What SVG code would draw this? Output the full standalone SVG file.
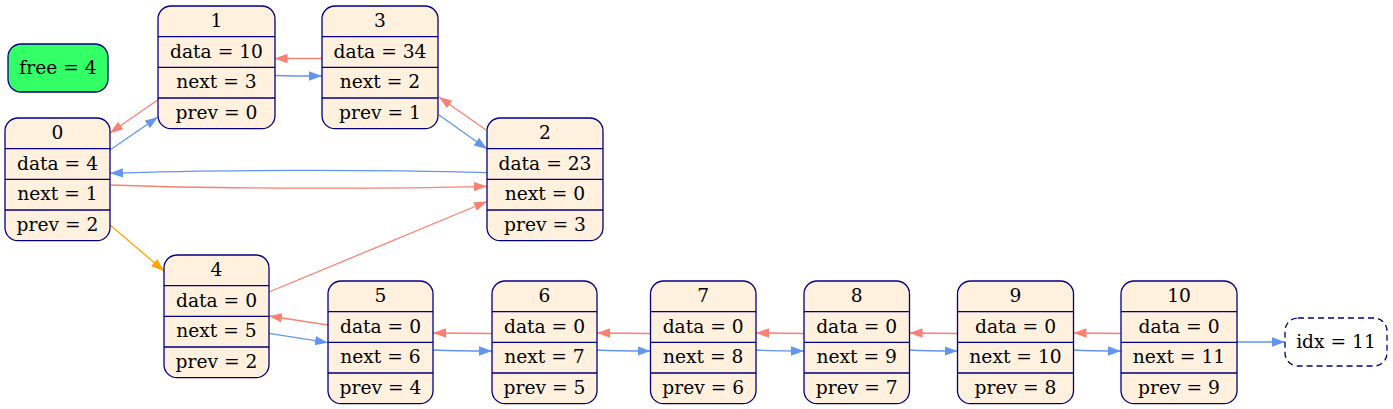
<svg xmlns="http://www.w3.org/2000/svg" width="1393" height="409" viewBox="0 0 1393 409">
<style>
text{font-family:"DejaVu Serif","Liberation Serif",serif;font-size:18.67px;fill:#000;text-anchor:middle}
.rec{fill:#FFF1DE;stroke:#000080;stroke-width:1.3}
.sep{stroke:#000080;stroke-width:1.3}
.free{fill:#33FF66;stroke:#000080;stroke-width:1.3}
.idx{fill:none;stroke:#000080;stroke-width:1.3;stroke-dasharray:6,4}
.b{fill:none;stroke:#6495ED;stroke-width:1.3;marker-end:url(#ab)}
.r{fill:none;stroke:#FA8072;stroke-width:1.3;marker-end:url(#ar)}
.o{fill:none;stroke:#FFA500;stroke-width:1.3;marker-end:url(#ao)}
</style>
<defs>
<marker id="ab" markerUnits="userSpaceOnUse" markerWidth="14" markerHeight="10" refX="13" refY="5" orient="auto"><polygon points="0,0.3 13,5 0,9.7" fill="#6495ED"/></marker>
<marker id="ar" markerUnits="userSpaceOnUse" markerWidth="14" markerHeight="10" refX="13" refY="5" orient="auto"><polygon points="0,0.3 13,5 0,9.7" fill="#FA8072"/></marker>
<marker id="ao" markerUnits="userSpaceOnUse" markerWidth="14" markerHeight="10" refX="13" refY="5" orient="auto"><polygon points="0,0.3 13,5 0,9.7" fill="#FFA500"/></marker>
</defs>
<rect width="1393" height="409" fill="#fff"/>

<g id="edges">
<path class="b" d="M110,150 L158,117"/>
<path class="r" d="M159,99 L110,133"/>
<path class="r" d="M322,58.5 L274.5,58.5"/>
<path class="b" d="M275,75.5 C290,76 305,76 322,76"/>
<path class="r" d="M486,130 L439,97"/>
<path class="b" d="M439,115 L487,149"/>
<path class="b" d="M487,172.7 C380,169.6 220,169.6 110,173.3"/>
<path class="r" d="M111,185 C220,189 380,189 487,186.3"/>
<path class="o" d="M110,225 L164,271"/>
<path class="r" d="M269,292 L487,201.5"/>
<path class="r" d="M328,325 L269,316"/>
<path class="b" d="M269,333.3 L328,342.7"/>
<path class="r" d="M492,333.5 C470,333 455,333 433,333"/>
<path class="b" d="M433,350 C455,351 470,351 492,351"/>
<path class="r" d="M650.5,333.5 C630,333 615,333 597,333"/>
<path class="b" d="M597,350 C615,351 630,351 650.5,351"/>
<path class="r" d="M804,333.5 C785,333 770,333 756,333"/>
<path class="b" d="M756,350 C770,351 785,351 804,351"/>
<path class="r" d="M957.5,333.5 C940,333 925,333 909.5,333"/>
<path class="b" d="M909.5,350 C925,351 940,351 957.5,351"/>
<path class="r" d="M1121,333.5 C1100,333 1085,333 1073.5,333"/>
<path class="b" d="M1073.5,350 C1090,351 1105,351 1121,351"/>
<path class="b" d="M1237,342 L1285,342"/>
</g>

<g id="free">
<rect class="free" x="8" y="44" width="100" height="48" rx="13"/>
<text x="58" y="74">free = 4</text>
</g>

<g id="node1">
<rect class="rec" x="158" y="6" width="117" height="122.7" rx="13"/>
<path class="sep" d="M158,36.7 H275 M158,67.3 H275 M158,98 H275"/>
<text x="216.5" y="26.8">1</text>
<text x="216.5" y="57.5">data = 10</text>
<text x="216.5" y="88.2">next = 3</text>
<text x="216.5" y="118.8">prev = 0</text>
</g>

<g id="node3">
<rect class="rec" x="322" y="6" width="116" height="122.7" rx="13"/>
<path class="sep" d="M322,36.7 H438 M322,67.3 H438 M322,98 H438"/>
<text x="380" y="26.8">3</text>
<text x="380" y="57.5">data = 34</text>
<text x="380" y="88.2">next = 2</text>
<text x="380" y="118.8">prev = 1</text>
</g>

<g id="node0">
<rect class="rec" x="5" y="118" width="105" height="122.7" rx="13"/>
<path class="sep" d="M5,148.7 H110 M5,179.3 H110 M5,210 H110"/>
<text x="57.5" y="138.8">0</text>
<text x="57.5" y="169.5">data = 4</text>
<text x="57.5" y="200.2">next = 1</text>
<text x="57.5" y="230.8">prev = 2</text>
</g>

<g id="node2">
<rect class="rec" x="487" y="118" width="116" height="122.7" rx="13"/>
<path class="sep" d="M487,148.7 H603 M487,179.3 H603 M487,210 H603"/>
<text x="545" y="138.8">2</text>
<text x="545" y="169.5">data = 23</text>
<text x="545" y="200.2">next = 0</text>
<text x="545" y="230.8">prev = 3</text>
</g>

<g id="node4">
<rect class="rec" x="164" y="255" width="105" height="122.7" rx="13"/>
<path class="sep" d="M164,285.7 H269 M164,316.3 H269 M164,347 H269"/>
<text x="216.5" y="275.8">4</text>
<text x="216.5" y="306.5">data = 0</text>
<text x="216.5" y="337.2">next = 5</text>
<text x="216.5" y="367.8">prev = 2</text>
</g>

<g id="node5">
<rect class="rec" x="328" y="281" width="105" height="122.7" rx="13"/>
<path class="sep" d="M328,311.7 H433 M328,342.3 H433 M328,373 H433"/>
<text x="380.5" y="301.8">5</text>
<text x="380.5" y="332.5">data = 0</text>
<text x="380.5" y="363.2">next = 6</text>
<text x="380.5" y="393.8">prev = 4</text>
</g>

<g id="node6">
<rect class="rec" x="492" y="281" width="105" height="122.7" rx="13"/>
<path class="sep" d="M492,311.7 H597 M492,342.3 H597 M492,373 H597"/>
<text x="544.5" y="301.8">6</text>
<text x="544.5" y="332.5">data = 0</text>
<text x="544.5" y="363.2">next = 7</text>
<text x="544.5" y="393.8">prev = 5</text>
</g>

<g id="node7">
<rect class="rec" x="650.5" y="281" width="105.5" height="122.7" rx="13"/>
<path class="sep" d="M650.5,311.7 H756 M650.5,342.3 H756 M650.5,373 H756"/>
<text x="703.2" y="301.8">7</text>
<text x="703.2" y="332.5">data = 0</text>
<text x="703.2" y="363.2">next = 8</text>
<text x="703.2" y="393.8">prev = 6</text>
</g>

<g id="node8">
<rect class="rec" x="804" y="281" width="105.5" height="122.7" rx="13"/>
<path class="sep" d="M804,311.7 H909.5 M804,342.3 H909.5 M804,373 H909.5"/>
<text x="856.7" y="301.8">8</text>
<text x="856.7" y="332.5">data = 0</text>
<text x="856.7" y="363.2">next = 9</text>
<text x="856.7" y="393.8">prev = 7</text>
</g>

<g id="node9">
<rect class="rec" x="957.5" y="281" width="116" height="122.7" rx="13"/>
<path class="sep" d="M957.5,311.7 H1073.5 M957.5,342.3 H1073.5 M957.5,373 H1073.5"/>
<text x="1015.5" y="301.8">9</text>
<text x="1015.5" y="332.5">data = 0</text>
<text x="1015.5" y="363.2">next = 10</text>
<text x="1015.5" y="393.8">prev = 8</text>
</g>

<g id="node10">
<rect class="rec" x="1121" y="281" width="116" height="122.7" rx="13"/>
<path class="sep" d="M1121,311.7 H1237 M1121,342.3 H1237 M1121,373 H1237"/>
<text x="1179" y="301.8">10</text>
<text x="1179" y="332.5">data = 0</text>
<text x="1179" y="363.2">next = 11</text>
<text x="1179" y="393.8">prev = 9</text>
</g>

<g id="idx">
<rect class="idx" x="1285" y="318" width="102" height="48" rx="13"/>
<text x="1336" y="348">idx = 11</text>
</g>
</svg>
